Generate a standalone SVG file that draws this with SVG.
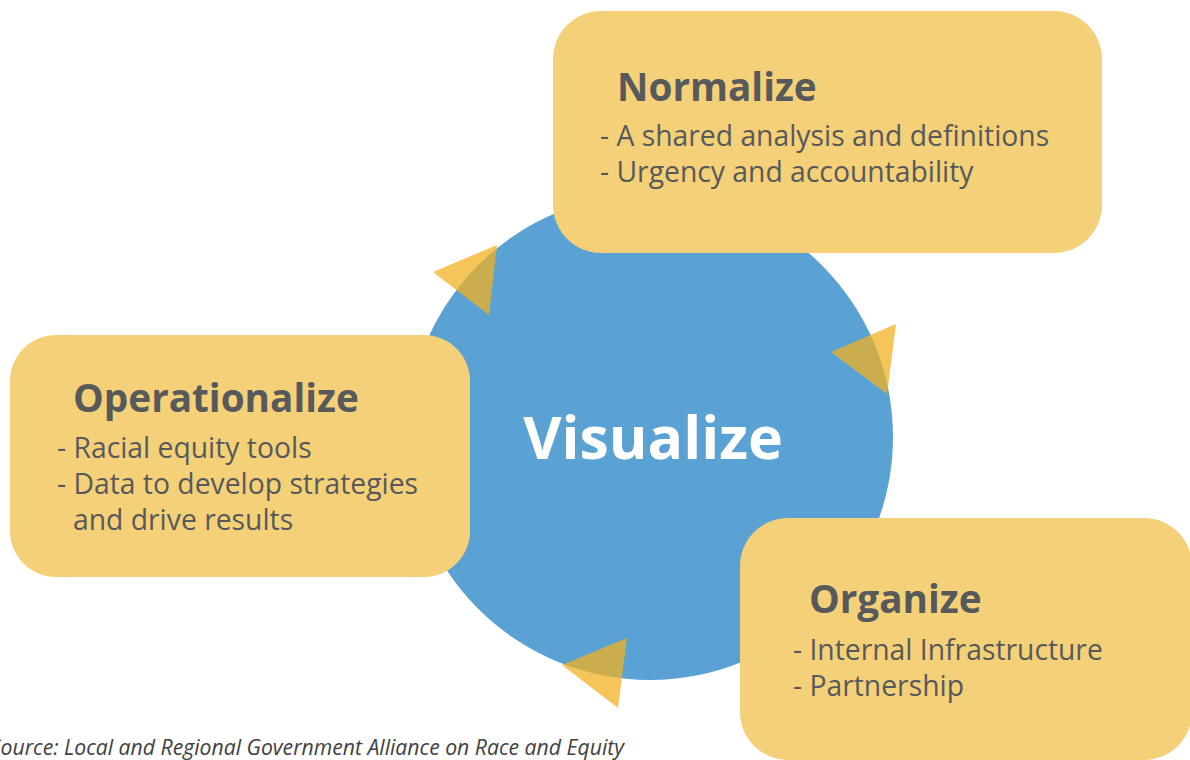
<svg xmlns="http://www.w3.org/2000/svg" width="1190" height="760" viewBox="0 0 1190 760">
<style>
.box{fill:#F4D078;}
.title{font-family:"Open Sans","Liberation Sans",sans-serif;font-weight:700;font-size:38.7px;fill:#58595B;}
.item{font-family:"Open Sans","Liberation Sans",sans-serif;font-size:28.3px;fill:#58595B;}
.center{font-family:"Open Sans","Liberation Sans",sans-serif;font-weight:700;font-size:59px;fill:#FFFFFF;}
.src{font-family:"Open Sans","Liberation Sans",sans-serif;font-style:italic;font-size:21.2px;fill:#3F4042;}
.arrow{fill:#F2B11F;fill-opacity:0.74;}
</style>
<rect width="1190" height="760" fill="#FFFFFF"/>
<g id="visualize">
<circle cx="650" cy="437" r="243" fill="#5AA1D4"/>
<text class="center" x="653" y="459" text-anchor="middle">Visualize</text>
</g>
<g id="normalize">
<rect class="box" x="553" y="11" width="549" height="242" rx="48" ry="48"/>
<text class="title" x="617" y="101">Normalize</text>
<text class="item" x="600" y="146">- A shared analysis and definitions</text>
<text class="item" x="600" y="182">- Urgency and accountability</text>
</g>
<g id="operationalize">
<rect class="box" x="10" y="335" width="460" height="242" rx="46" ry="46"/>
<text class="title" x="73" y="412">Operationalize</text>
<text class="item" x="57" y="458">- Racial equity tools</text>
<text class="item" x="57" y="494">- Data to develop strategies</text>
<text class="item" x="73" y="530">and drive results</text>
</g>
<g id="organize">
<rect class="box" x="740" y="518" width="452" height="242" rx="48" ry="48"/>
<text class="title" x="809" y="613">Organize</text>
<text class="item" x="793" y="660">- Internal Infrastructure</text>
<text class="item" x="793" y="696">- Partnership</text>
</g>
<g id="connectors">
<polygon class="arrow" points="433,272 497,245 489,315"/>
<polygon class="arrow" points="831,352 896,324 887,394"/>
<polygon class="arrow" points="562,665 627,638 618,708"/>
</g>
<text class="src" x="624" y="755" text-anchor="end">Source: Local and Regional Government Alliance on Race and Equity</text>
</svg>
